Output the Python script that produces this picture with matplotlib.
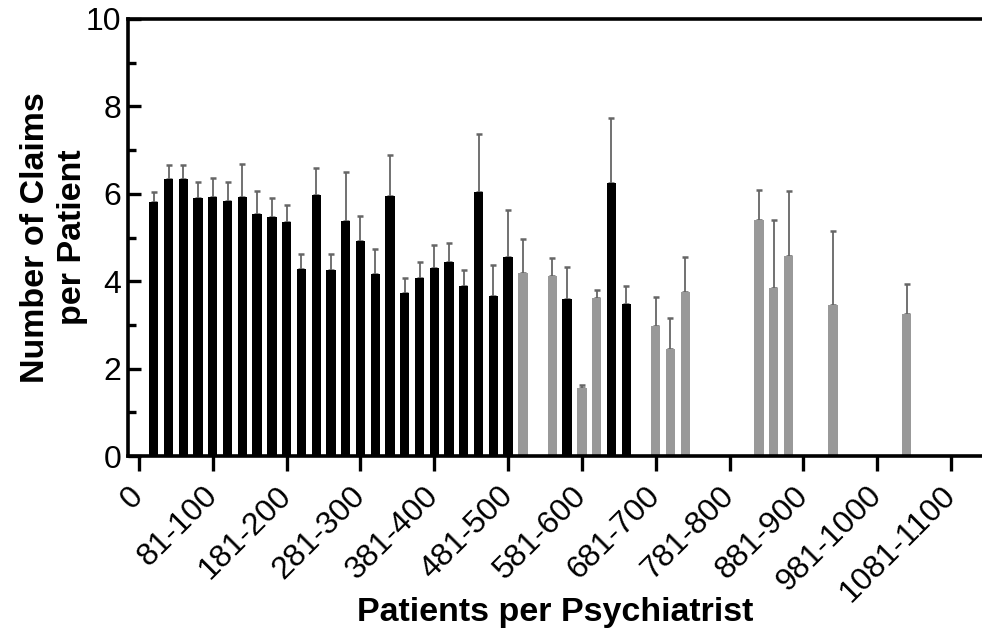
import numpy as np
import matplotlib
matplotlib.use("Agg")
import matplotlib.pyplot as plt
import matplotlib.transforms as mtransforms
from matplotlib.ticker import MultipleLocator

plt.rcParams['font.family'] = ['Liberation Sans', 'DejaVu Sans']

# Categories: "0" then 20-patient bins up to 1081-1100
categories = ["0"] + [f"{20 * (k - 1) + 1}-{20 * k}" for k in range(1, 56)]

N = None
# Black series (mean claims per patient) and upper error
black_mean = [N, 5.82, 6.35, 6.34, 5.90, 5.93, 5.84, 5.93, 5.54, 5.47, 5.35,
              4.28, 5.97, 4.26, 5.37, 4.91, 4.16, 5.95, 3.73, 4.07, 4.30,
              4.43, 3.88, 6.03, 3.67, 4.55, N, N, N, 3.59, N,
              N, 6.25, 3.48, N, N, N, N, N, N, N,
              N, N, N, N, N, N, N, N, N, N,
              N, N, N, N, N]
black_err = [N, 0.21, 0.32, 0.33, 0.37, 0.44, 0.43, 0.76, 0.53, 0.43, 0.39,
             0.34, 0.63, 0.36, 1.14, 0.59, 0.58, 0.94, 0.34, 0.36, 0.52,
             0.44, 0.38, 1.34, 0.70, 1.08, N, N, N, 0.74, N,
             N, 1.48, 0.42, N, N, N, N, N, N, N,
             N, N, N, N, N, N, N, N, N, N,
             N, N, N, N, N]
# Gray series
gray_mean = [N] * 26 + [4.19, N, 4.11, N, 1.55, 3.62, N, N, N, 2.97, 2.45, 3.75,
                        N, N, N, N, 5.40, 3.84, 4.57, N, N, 3.46, N, N, N, N, 3.26,
                        N, N, N]
gray_err = [N] * 26 + [0.77, N, 0.42, N, 0.07, 0.17, N, N, N, 0.67, 0.70, 0.81,
                       N, N, N, N, 0.69, 1.56, 1.49, N, N, 1.68, N, N, N, N, 0.68,
                       N, N, N]

yticks = [0, 2, 4, 6, 8, 10]


def arr(v):
    return np.array([np.nan if x is None else x for x in v], dtype=float)


fig = plt.figure(figsize=(9.82, 6.34), dpi=100)
ax = fig.add_axes([128 / 982, (634 - 456) / 634, (982 - 128) / 982, (456 - 19) / 634])

x = np.arange(len(categories))
width = 0.63
for means, errs, color in [(black_mean, black_err, '#000000'),
                           (gray_mean, gray_err, '#999999')]:
    m = arr(means)
    e = arr(errs)
    ok = ~np.isnan(m)
    ax.bar(x[ok], m[ok], width=width, color=color, edgecolor='none', zorder=2)
    ax.errorbar(x[ok], m[ok], yerr=[np.zeros(ok.sum()), e[ok]], fmt='none',
                ecolor='#666666', elinewidth=1.3, capsize=2, capthick=1.8, zorder=1)

ax.set_xlim(-0.745, 57.1)
ax.set_ylim(0, 10)
ax.set_yticks(yticks)
ax.yaxis.set_minor_locator(MultipleLocator(1))
ax.set_xticks(x[::5])
ax.set_xticklabels(categories[::5], rotation=45, ha='right', va='center',
                   rotation_mode='anchor')
offset = mtransforms.ScaledTranslation(4 / 100, 0, fig.dpi_scale_trans)
for lbl in ax.get_xticklabels():
    lbl.set_transform(lbl.get_transform() + offset)

for s in ['left', 'bottom', 'top']:
    ax.spines[s].set_linewidth(2.6)
ax.spines['right'].set_visible(False)

ax.tick_params(axis='y', which='major', direction='in', length=9, width=2.4,
               labelsize=23, pad=5)
ax.tick_params(axis='y', which='minor', direction='in', length=5.5, width=2.4)
ax.tick_params(axis='x', which='major', direction='out', length=11, width=2.4,
               labelsize=23, pad=14.5)

ax.set_xlabel('Patients per Psychiatrist', fontsize=24.5, fontweight='bold')
ax.xaxis.set_label_coords(0.5, -0.322)
ax.set_ylabel('Number of Claims\nper Patient', fontsize=24.5, fontweight='bold',
              linespacing=1.25)
ax.yaxis.set_label_coords(-0.047, 0.5)

fig.savefig('out.png', dpi=100)
